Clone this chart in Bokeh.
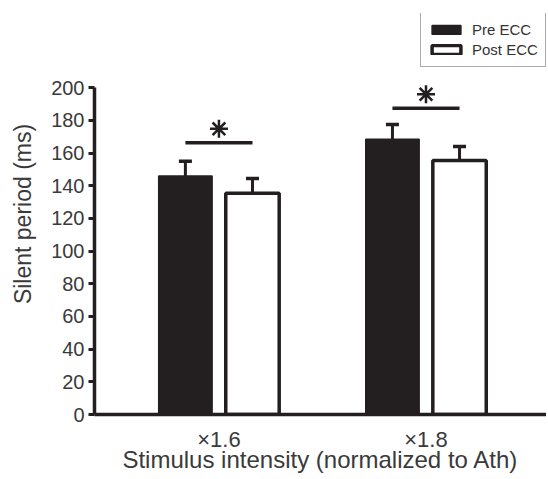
import numpy as np
from bokeh.plotting import figure
from bokeh.models import (ColumnDataSource, Range1d, FixedTicker, Whisker, TeeHead,
                          Legend, LegendItem)
from bokeh.embed import file_html
from bokeh.resources import INLINE

# ---- data ----
categories = ["×1.6", "×1.8"]
pre_ecc = [146.0, 168.5]
post_ecc = [135.5, 155.5]
pre_err = [9.0, 9.0]
post_err = [9.0, 8.5]
sig_y = [166.3, 187.5]
y_ticks = list(range(0, 201, 20))

# ---- layout / style ----
W, H = 546, 478
top_b, bot_b, left_b, right_b = 13, 64, 94, 0
frame_h = H - top_b - bot_b
y_max = 245.5
units_per_px = y_max / frame_h
ink = "#231f20"
txt = "#3a3a3a"
font = "Liberation Sans"

idx = np.arange(len(categories))
off = 0.162
bw = 0.258

p = figure(width=W, height=H, output_backend="svg", toolbar_location=None,
           x_range=Range1d(-0.601, 1.582), y_range=Range1d(0, y_max),
           min_border_left=left_b, min_border_right=right_b,
           min_border_top=top_b, min_border_bottom=bot_b)
p.outline_line_color = None
p.grid.visible = False
p.background_fill_color = "white"

pre_src = ColumnDataSource(dict(x=idx - off, top=pre_ecc,
                                upper=np.array(pre_ecc) + np.array(pre_err)))
post_src = ColumnDataSource(dict(x=idx + off, top=post_ecc,
                                 upper=np.array(post_ecc) + np.array(post_err)))

for src in (pre_src, post_src):
    w = Whisker(base="x", lower="top", upper="upper", source=src,
                line_color=ink, line_width=3, lower_head=None,
                upper_head=TeeHead(size=13, line_color=ink, line_width=3.5))
    p.add_layout(w)

r_pre = p.vbar(x="x", top="top", bottom=0, width=bw, source=pre_src,
               fill_color=ink, line_color=ink, line_width=1.5)
r_post = p.vbar(x="x", top="top", bottom=0, width=bw, source=post_src,
                fill_color="white", line_color=ink, line_width=3.5)

# significance bars and stars
p.segment(x0=idx - off, x1=idx + off, y0=sig_y, y1=sig_y,
          line_width=3.5, line_color=ink)
star_y = np.array(sig_y) + 14 * units_per_px
p.scatter(idx, star_y, marker="asterisk", size=18, line_width=2.5, line_color=ink)

# axes
ya = p.yaxis[0]
ya.ticker = FixedTicker(ticks=y_ticks)
ya.bounds = (0, 200)
ya.axis_line_width = 3.5
ya.axis_line_color = ink
ya.major_tick_line_width = 3
ya.major_tick_line_color = ink
ya.major_tick_out = 6
ya.major_tick_in = 0
ya.minor_tick_out = 0
ya.minor_tick_in = 0
ya.major_label_text_font = font
ya.major_label_text_font_size = "20px"
ya.major_label_text_color = txt
ya.major_label_standoff = 4
ya.axis_label = "Silent period (ms)"
ya.axis_label_text_font = font
ya.axis_label_text_font_size = "23px"
ya.axis_label_text_font_style = "normal"
ya.axis_label_text_color = txt
ya.axis_label_standoff = 12

xa = p.xaxis[0]
xa.ticker = FixedTicker(ticks=[int(i) for i in idx])
xa.major_label_overrides = {int(i): c for i, c in zip(idx, categories)}
xa.axis_line_width = 3.5
xa.axis_line_color = ink
xa.major_tick_out = 0
xa.major_tick_in = 0
xa.minor_tick_out = 0
xa.minor_tick_in = 0
xa.major_label_text_font = font
xa.major_label_text_font_size = "22px"
xa.major_label_text_color = txt
xa.major_label_standoff = 12
xa.axis_label = "Stimulus intensity (normalized to Ath)"
xa.axis_label_text_font = font
xa.axis_label_text_font_size = "24px"
xa.axis_label_text_font_style = "normal"
xa.axis_label_text_color = txt
xa.axis_label_standoff = -9

legend = Legend(items=[LegendItem(label="Pre ECC", renderers=[r_pre]),
                       LegendItem(label="Post ECC", renderers=[r_post])],
                location=(326, frame_h - 54), glyph_width=36, glyph_height=11,
                label_height=20, label_standoff=8, spacing=0, padding=7, margin=0,
                border_line_color="#555555", border_line_width=1,
                label_text_font=font, label_text_font_size="15px",
                label_text_color="#333333")
p.add_layout(legend)

open("out.html", "w").write(file_html(p, INLINE))
